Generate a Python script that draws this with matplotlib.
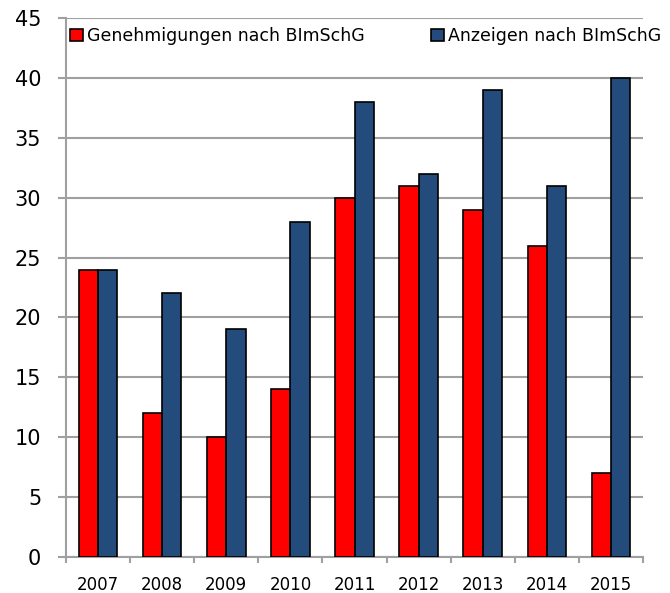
import numpy as np
import matplotlib
matplotlib.use("Agg")
import matplotlib.pyplot as plt

plt.rcParams["font.family"] = ["DejaVu Sans"]

years = ["2007", "2008", "2009", "2010", "2011", "2012", "2013", "2014", "2015"]
genehmigungen = [24, 12, 10, 14, 30, 31, 29, 26, 7]
anzeigen = [24, 22, 19, 28, 38, 32, 39, 31, 40]

fig = plt.figure(figsize=(6.70, 5.93), dpi=100)
ax = fig.add_axes([66 / 670, 1 - 557 / 593, (643 - 66) / 670, (557 - 18) / 593])

x = np.arange(len(years))
w = 0.3
b1 = ax.bar(x - w / 2, genehmigungen, w, color="#ff0000", edgecolor="black", linewidth=1.2,
            label="Genehmigungen nach BImSchG", zorder=3)
b2 = ax.bar(x + w / 2, anzeigen, w, color="#234b7c", edgecolor="black", linewidth=1.2,
            label="Anzeigen nach BImSchG", zorder=3)

ax.set_xlim(-0.5, len(years) - 0.5)
ax.set_ylim(0, 45)
ax.set_yticks(range(0, 46, 5))
ax.yaxis.grid(True, color="#a0a0a0", linewidth=1.5, zorder=0)
ax.set_xticks(x)
ax.set_xticklabels(years, fontsize=12)
ax.set_xticks(np.arange(len(years) + 1) - 0.5, minor=True)
ax.tick_params(axis="x", which="major", length=0, pad=14)
ax.tick_params(axis="x", which="minor", length=4.5, color="#a0a0a0", width=1.5)
ax.tick_params(axis="y", length=5.8, color="#a0a0a0", width=1.5, labelsize=15, pad=12)
for s in ["top", "right"]:
    ax.spines[s].set_visible(False)
for s in ["left", "bottom"]:
    ax.spines[s].set_color("#a0a0a0")
    ax.spines[s].set_linewidth(1.5)

# two separate legend entries, placed like the original
legkw = dict(frameon=False, fontsize=12.5, handlelength=0.75, handleheight=0.75,
             handletextpad=0.25, borderpad=0, borderaxespad=0, loc="center left",
             bbox_transform=fig.transFigure)
leg1 = ax.legend([b1], ["Genehmigungen nach BImSchG"],
                 bbox_to_anchor=(70 / 670, 1 - 36 / 593), **legkw)
ax.add_artist(leg1)
ax.legend([b2], ["Anzeigen nach BImSchG"],
          bbox_to_anchor=(431 / 670, 1 - 36 / 593), **legkw)

fig.savefig("out.png", dpi=100)
